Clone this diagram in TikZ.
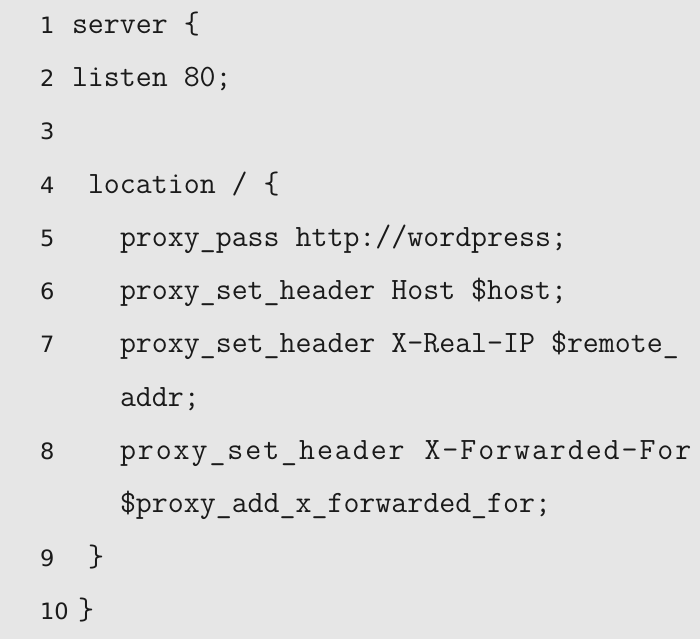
\documentclass[tikz,border=0pt]{standalone}
\usepackage{fontspec}
\newfontfamily\numfont{DejaVu Sans}
\definecolor{bggray}{HTML}{E6E6E6}
\definecolor{ink}{HTML}{1A1A1A}
% spread characters with extra tracking (spaces written as ~)
\def\spreadchars#1{\spreadloop#1\relax}
\def\spreadloop#1{\ifx#1\relax\else#1\kern1.95bp\expandafter\spreadloop\fi}
\tikzset{
  codeline/.style={anchor=base west, inner sep=0pt, outer sep=0pt, text=ink,
    font=\ttfamily\fontsize{31bp}{34bp}\selectfont},
  numline/.style={anchor=base west, inner sep=0pt, outer sep=0pt, text=ink,
    font=\numfont\fontsize{22.5bp}{26bp}\selectfont},
}
\begin{document}
\begin{tikzpicture}[x=1bp, y=-1bp]
\useasboundingbox (0,0) rectangle (700,639);
\fill[bggray] (0,0) rectangle (700,639);
% baselines: 33.3 + 53.27 k
\node[numline] (n1) at (40,33.3) {1};
\node[codeline] (c1) at (72,33.3) {server \{};
\node[numline] (n2) at (40,86.6) {2};
\node[codeline] (c2) at (72,86.6) {listen 80;};
\node[numline] (n3) at (40,139.8) {3};
\node[numline] (n4) at (40,193.1) {4};
\node[codeline] (c4) at (88,193.1) {location / \{};
\node[numline] (n5) at (40,246.4) {5};
\node[codeline] (c5) at (120,246.4) {proxy\_pass http://wordpress;};
\node[numline] (n6) at (40,299.6) {6};
\node[codeline] (c6) at (120,299.6) {proxy\_set\_header Host \$host;};
\node[numline] (n7) at (40,352.9) {7};
\node[codeline] (c7) at (120,352.9) {proxy\_set\_header X-Real-IP \$remote\_};
\node[codeline] (c7b) at (120,406.2) {addr;};
\node[numline] (n8) at (40,459.5) {8};
\node[codeline] (c8) at (120,459.5) {\spreadchars{proxy\_set\_header~X-Forwarded-For}};
\node[codeline] (c8b) at (120,512.7) {\$proxy\_add\_x\_forwarded\_for;};
\node[numline] (n9) at (40,566.0) {9};
\node[codeline] (c9) at (88,566.0) {\}};
\node[numline] (n10) at (40,619.3) {10};
\node[codeline] (c10) at (78,619.3) {\}};
\end{tikzpicture}
\end{document}
